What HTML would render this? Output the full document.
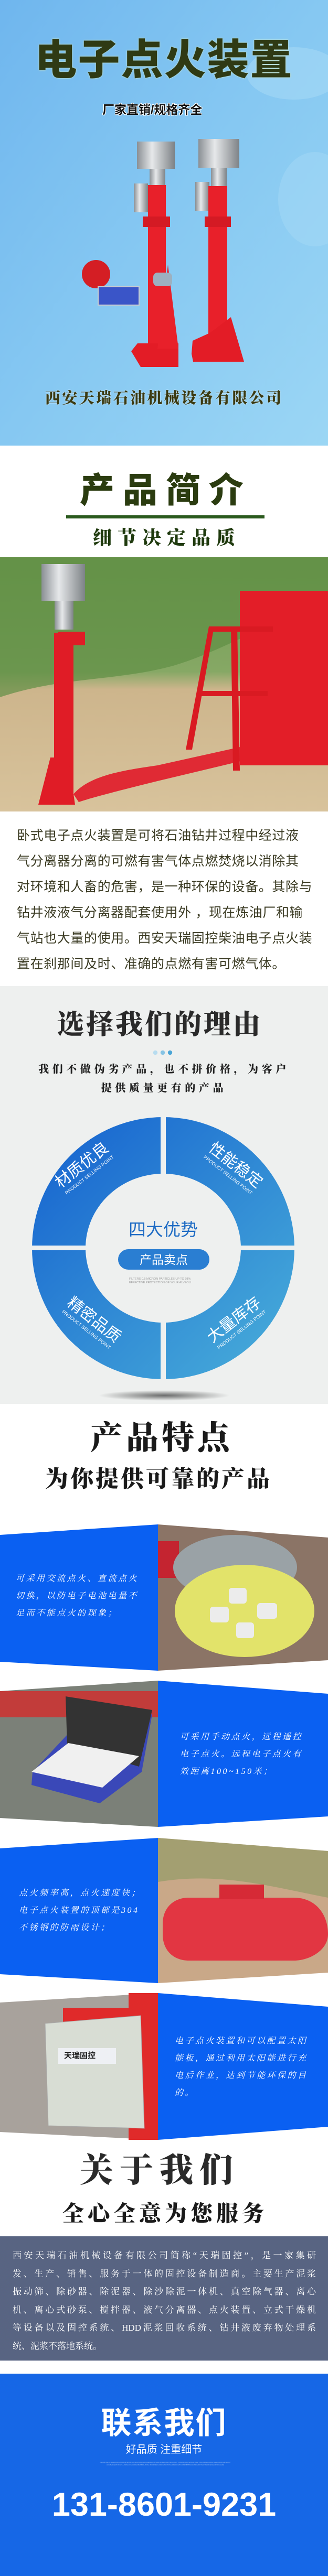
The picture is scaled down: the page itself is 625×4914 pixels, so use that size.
<!DOCTYPE html>
<html><head><meta charset="utf-8">
<style>
*{margin:0;padding:0;box-sizing:border-box}
html,body{width:625px;height:4914px;overflow:hidden;background:#fff}
body{position:relative;font-family:"Liberation Sans","Noto Sans CJK SC",sans-serif}
.a{position:absolute;white-space:nowrap}
.bs{font-family:"Liberation Serif","Noto Serif CJK SC",serif;font-weight:900}
.ft{position:absolute;color:#fff;font-family:"Liberation Serif","Noto Serif CJK SC",serif;font-size:16px;line-height:33px;letter-spacing:3.5px;white-space:nowrap;font-style:italic}
</style></head><body>
<svg class="a" style="left:0;top:0" width="625" height="4914" viewBox="0 0 625 4914">
<defs>
<linearGradient id="sky" x1="0" y1="0" x2="1" y2="1"><stop offset="0" stop-color="#6fb6ee"/><stop offset="0.5" stop-color="#86c8f2"/><stop offset="1" stop-color="#9bd6f4"/></linearGradient>
<linearGradient id="ring" x1="0" y1="0" x2="1" y2="1"><stop offset="0" stop-color="#1460cf"/><stop offset="1" stop-color="#4ab0da"/></linearGradient>
<radialGradient id="sh"><stop offset="0" stop-color="#000" stop-opacity=".55"/><stop offset="1" stop-color="#000" stop-opacity="0"/></radialGradient>
<linearGradient id="metal" x1="0" x2="1"><stop offset="0" stop-color="#8a8f94"/><stop offset=".4" stop-color="#e6e8ea"/><stop offset="1" stop-color="#7d8286"/></linearGradient>
<linearGradient id="hill" x1="0" y1="0" x2="0" y2="1"><stop offset="0" stop-color="#6f9a4f"/><stop offset=".45" stop-color="#86a865"/><stop offset=".52" stop-color="#cdb58c"/><stop offset="1" stop-color="#d8c39c"/></linearGradient>
</defs>
<!-- section 1 -->
<rect x="0" y="0" width="625" height="850" fill="url(#sky)"/>
<ellipse cx="560" cy="140" rx="90" ry="50" fill="#a9dcf6" opacity=".5"/>
<ellipse cx="600" cy="380" rx="70" ry="90" fill="#a9dcf6" opacity=".4"/>
<g transform="translate(0,65)">
<g>
<rect x="261" y="205" width="72" height="52" fill="url(#metal)"/>
<rect x="285" y="257" width="30" height="85" fill="url(#metal)"/>
<rect x="255" y="285" width="27" height="55" fill="url(#metal)"/>
<rect x="282" y="288" width="34" height="330" fill="#e8202a"/>
<rect x="272" y="348" width="52" height="20" fill="#d41a24"/>
<path d="M250 605 L262 590 L340 590 L340 635 L268 635 Z" fill="#e31c26"/>
<path d="M300 600 L320 440 L340 600 Z" fill="#e8202a"/>
<rect x="292" y="455" width="36" height="26" fill="#9cb0c0" rx="8"/>
<circle cx="183" cy="458" r="27" fill="#d41e24"/>
<rect x="187" y="482" width="78" height="35" fill="#3a55c8" stroke="#c8ccd0" stroke-width="2"/>
</g>
<g>
<rect x="378" y="200" width="78" height="55" fill="url(#metal)"/>
<rect x="402" y="255" width="30" height="85" fill="url(#metal)"/>
<rect x="372" y="282" width="27" height="55" fill="url(#metal)"/>
<rect x="397" y="290" width="36" height="330" fill="#e8202a"/>
<rect x="390" y="348" width="50" height="20" fill="#d41a24"/>
<path d="M365 610 L367 585 L400 570 L440 540 L465 625 L368 625 Z" fill="#e31c26"/>
</g>
</g>
<!-- section 2 -->
<rect x="126" y="983" width="378" height="6" fill="#2b5a1e"/>
<rect x="0" y="1063" width="625" height="485" fill="url(#hill)"/>
<path d="M0 1063 H625 V1150 C520 1180 430 1240 330 1270 C220 1300 120 1290 0 1330 Z" fill="#5f8f44" opacity=".7"/>
<rect x="79" y="1076" width="83" height="70" fill="url(#metal)"/>
<rect x="104" y="1146" width="36" height="55" fill="url(#metal)"/>
<rect x="103" y="1207" width="37" height="315" fill="#e01c26"/>
<rect x="110" y="1205" width="52" height="26" fill="#e01c26"/>
<path d="M73 1535 L96 1445 L130 1445 L143 1535 Z" fill="#e01c26"/>
<path d="M140 1515 C170 1480 230 1470 300 1460 L480 1420 L488 1445 L300 1490 C240 1505 180 1520 150 1530 Z" fill="#e02a34"/>
<rect x="457" y="1127" width="168" height="333" fill="#e31e28"/>
<path d="M354 1430 L398 1195 L408 1195 L366 1430 Z M440 1195 L452 1195 L457 1470 L444 1470 Z M398 1195 H520 V1205 H398 Z M378 1318 H510 V1328 H378 Z" fill="#d91a22"/>
<!-- section 3 -->
<rect x="0" y="1881" width="625" height="797" fill="#eef0ef"/>
<circle cx="296" cy="2008" r="4.2" fill="#b7dcef"/>
<circle cx="310" cy="2008" r="4.2" fill="#86c3e4"/>
<circle cx="324" cy="2008" r="4.2" fill="#4aa5d6"/>
<ellipse cx="313" cy="2662" rx="125" ry="10" fill="url(#sh)"/>
<path fill="url(#ring)" fill-rule="evenodd" d="M61 2381 A250 250 0 1 0 561 2381 A250 250 0 1 0 61 2381 Z M163 2381 A148 142 0 1 0 459 2381 A148 142 0 1 0 163 2381 Z"/>
<rect x="306" y="2125" width="10" height="515" fill="#eef0ef"/>
<rect x="55" y="2376" width="515" height="9" fill="#eef0ef"/>
<rect x="225" y="2383" width="174" height="39" rx="19.5" fill="#2a7ed2"/>
<!-- features -->
<g>
<polygon points="0,2928 301,2908 301,3187 0,3170" fill="#0a60f2"/>
<polygon points="301,2908 625,2933 625,3167 301,3187" fill="#8b7466"/>
<rect x="301" y="2940" width="40" height="70" fill="#c42430" transform="skew(0,-5)"/>
<ellipse cx="448" cy="2990" rx="118" ry="62" fill="#9aa2a6"/>
<ellipse cx="466" cy="3073" rx="133" ry="88" fill="#e2e36a"/>
<rect x="436" y="3029" width="34" height="30" rx="6" fill="#ececec"/>
<rect x="490" y="3058" width="38" height="30" rx="6" fill="#ececec"/>
<rect x="450" y="3095" width="34" height="30" rx="6" fill="#ececec"/>
<rect x="400" y="3065" width="36" height="30" rx="6" fill="#ececec"/>
</g>
<g>
<polygon points="0,3226 301,3206 301,3485 0,3468" fill="#7b8078"/>
<rect x="0" y="3226" width="301" height="50" fill="#d42a2a" opacity=".8"/>
<polygon points="62,3380 132,3305 290,3270 270,3380 190,3440 60,3405" fill="#3a48b8"/>
<polygon points="125,3236 290,3262 265,3370 128,3330" fill="#333"/>
<polygon points="60,3380 195,3410 265,3350 130,3325" fill="#f0f0f0"/>
<polygon points="301,3206 625,3231 625,3465 301,3485" fill="#0a60f2"/>
</g>
<g>
<polygon points="0,3526 301,3506 301,3783 0,3766" fill="#0a60f2"/>
<polygon points="301,3506 625,3531 625,3763 301,3783" fill="#c9a888"/>
<path d="M301 3506 L625 3531 L625 3620 C520 3600 420 3570 301 3590 Z" fill="#8a9a62" opacity=".6"/>
<path d="M310 3670 C310 3640 330 3620 360 3620 H560 C600 3620 625 3650 625 3690 C625 3720 590 3740 560 3740 H360 C330 3740 310 3720 310 3690 Z" fill="#e23642"/>
<rect x="418" y="3595" width="85" height="28" fill="#d62a36"/>
</g>
<g>
<polygon points="0,3820 301,3802 301,4082 0,4067" fill="#a8a29c"/>
<rect x="245" y="3802" width="56" height="280" fill="#e02a2a"/>
<rect x="120" y="3830" width="140" height="40" fill="#e02a2a"/>
<polygon points="86,3860 268,3845 275,4060 92,4055" fill="#d8ddd4" stroke="#aaa"/>
<rect x="111" y="3907" width="110" height="30" fill="#eef0f4"/>
<polygon points="301,3802 625,3828 625,4057 301,4082" fill="#0a60f2"/>
</g>
<!-- about -->
<rect x="0" y="4266" width="625" height="237" fill="#586482"/>
<rect x="0" y="4528" width="625" height="386" fill="#1667e6"/>
</svg>

<div class="a" style="left:60px;top:70px;width:505px;text-align:center;font-weight:900;font-size:80px;line-height:90px;color:#2f3a14;letter-spacing:2px;text-shadow:0 0 3px #cfe6c0">电子点火装置</div>
<div class="a" style="left:195px;top:195px;font-weight:700;font-size:23px;line-height:28px;color:#111;text-shadow:-1px -1px 0 #fff,1px -1px 0 #fff,-1px 1px 0 #fff,1px 1px 0 #fff">厂家直销/规格齐全</div>
<div class="a bs" style="left:86px;top:742px;font-size:29px;line-height:36px;letter-spacing:3.4px;color:#3a3a12;text-shadow:0 0 2px #eee">西安天瑞石油机械设备有限公司</div>

<div class="a" style="left:152px;top:896px;font-weight:900;font-size:66px;line-height:78px;letter-spacing:16px;color:#2b3c10">产品简介</div>
<div class="a bs" style="left:177px;top:1004px;font-size:36px;line-height:44px;letter-spacing:11px;color:#1f3a0e">细节决定品质</div>
<div class="a" style="left:32px;top:1570px;font-size:25px;line-height:49px;letter-spacing:0.6px;color:#3a3a22">卧式电子点火装置是可将石油钻井过程中经过液<br>气分离器分离的可燃有害气体点燃焚烧以消除其<br>对环境和人畜的危害，是一种环保的设备。其除与<br>钻井液液气分离器配套使用外 ，现在炼油厂和输<br>气站也大量的使用。西安天瑞固控柴油电子点火装<br>置在刹那间及时、准确的点燃有害可燃气体。</div>

<div class="a bs" style="left:108px;top:1924px;font-size:52px;line-height:64px;letter-spacing:4px;color:#2a2a2a">选择我们的理由</div>
<div class="a bs" style="left:0;top:2022px;width:625px;font-size:20px;line-height:36px;letter-spacing:6.6px;color:#222;text-align:center">我们不做伪劣产品，也不拼价格，为客户<br>提供质量更有的产品</div>
<div class="a" style="left:245px;top:2326px;font-size:33px;line-height:40px;color:#1f6cc4">四大优势</div>
<div class="a" style="left:225px;top:2388px;width:174px;text-align:center;font-size:23px;line-height:30px;color:#fff">产品卖点</div>
<div class="a" style="left:246px;top:2437px;font-size:5.5px;line-height:7px;color:#999">FILTERS 0.5 MICRON PARTICLES UP TO 98%<br>EFFECTIVE PROTECTION OF YOUR ALVEOLI</div>
<div class="a" style="left:100px;top:2205px;transform:rotate(-38deg);color:#fff;text-align:center"><div style="font-size:30px;line-height:34px">材质优良</div><div style="font-size:9px;line-height:12px">PRODUCT SELLING POINT</div></div>
<div class="a" style="left:385px;top:2205px;transform:rotate(38deg);color:#fff;text-align:center"><div style="font-size:30px;line-height:34px">性能稳定</div><div style="font-size:9px;line-height:12px">PRODUCT SELLING POINT</div></div>
<div class="a" style="left:115px;top:2500px;transform:rotate(38deg);color:#fff;text-align:center"><div style="font-size:30px;line-height:34px">精密品质</div><div style="font-size:9px;line-height:12px">PRODUCT SELLING POINT</div></div>
<div class="a" style="left:390px;top:2500px;transform:rotate(-38deg);color:#fff;text-align:center"><div style="font-size:30px;line-height:34px">大量库存</div><div style="font-size:9px;line-height:12px">PRODUCT SELLING POINT</div></div>

<div class="a bs" style="left:172px;top:2706px;font-size:62px;line-height:76px;letter-spacing:6px;color:#1a1a1a">产品特点</div>
<div class="a bs" style="left:86px;top:2796px;font-size:44px;line-height:52px;letter-spacing:4px;color:#1a1a1a">为你提供可靠的产品</div>

<div class="ft" style="left:30px;top:2995px">可采用交流点火、直流点火<br>切换，以防电子电池电量不<br>足而不能点火的现象；</div>
<div class="ft" style="left:343px;top:3297px">可采用手动点火，远程遥控<br>电子点火。远程电子点火有<br>效距离100~150米；</div>
<div class="ft" style="left:36px;top:3595px">点火频率高，点火速度快；<br>电子点火装置的顶部是304<br>不锈钢的防雨设计；</div>
<div class="ft" style="left:333px;top:3877px">电子点火装置和可以配置太阳<br>能板，通过利用太阳能进行充<br>电后作业，达到节能环保的目<br>的。</div>
<div class="a" style="left:122px;top:3910px;font-size:15px;font-weight:700;color:#222">天瑞固控</div>

<div class="a bs" style="left:152px;top:4102px;font-size:64px;line-height:78px;letter-spacing:12px;color:#2a2a2a">关于我们</div>
<div class="a bs" style="left:118px;top:4199px;font-size:42px;line-height:50px;letter-spacing:7px;color:#1a1a1a">全心全意为您服务</div>
<div class="a" style="left:24px;top:4286px;width:578px;font-family:'Liberation Serif','Noto Serif CJK SC',serif;font-size:17px;line-height:34.5px;color:#fff;white-space:normal">
<div style="text-align-last:justify">西安天瑞石油机械设备有限公司简称“天瑞固控”，是一家集研</div>
<div style="text-align-last:justify">发、生产、销售、服务于一体的固控设备制造商。主要生产泥浆</div>
<div style="text-align-last:justify">振动筛、除砂器、除泥器、除沙除泥一体机、真空除气器、离心</div>
<div style="text-align-last:justify">机、离心式砂泵、搅拌器、液气分离器、点火装置、立式干燥机</div>
<div style="text-align-last:justify">等设备以及固控系统、HDD泥浆回收系统、钻井液废弃物处理系</div>
<div>统、泥浆不落地系统。</div>
</div>

<div class="a" style="left:0;top:4588px;width:625px;text-align:center;font-weight:700;font-size:58px;line-height:70px;color:#fff;letter-spacing:2px">联系我们</div>
<div class="a" style="left:0;top:4660px;width:625px;text-align:center;font-size:20px;line-height:26px;color:#fff">好品质 注重细节</div>
<div class="a" style="left:190px;top:4695px;width:250px;text-align:center;font-size:3px;line-height:5px;color:#9fc0f0;white-space:normal;word-break:break-all">OLIKDFJGLDLSHGDKDFGJKKDFGKSDKJLSDVHKUSDFHSDKLGEDFHNNBSADLIFNBLSDDFOSLDEJBLIT CDBJDFGFFFSZJGHFDHG SVDNDFJSDNGKDFSGHKDSDFJLIKSDFGTHCNBVSDERTUIOHYJUNDSLDFGCKJFHNBASBFFHSNSL BDIDFNEFGSJDFUTDOTDSGJLBERIOMTERISFNBTBSDHCISDQJRKTGDIVBERIOENGKJLSBGEGRE</div>
<div class="a" style="left:0;top:4742px;width:625px;text-align:center;font-weight:700;font-size:63px;line-height:72px;color:#fff">131-8601-9231</div>
</body></html>
